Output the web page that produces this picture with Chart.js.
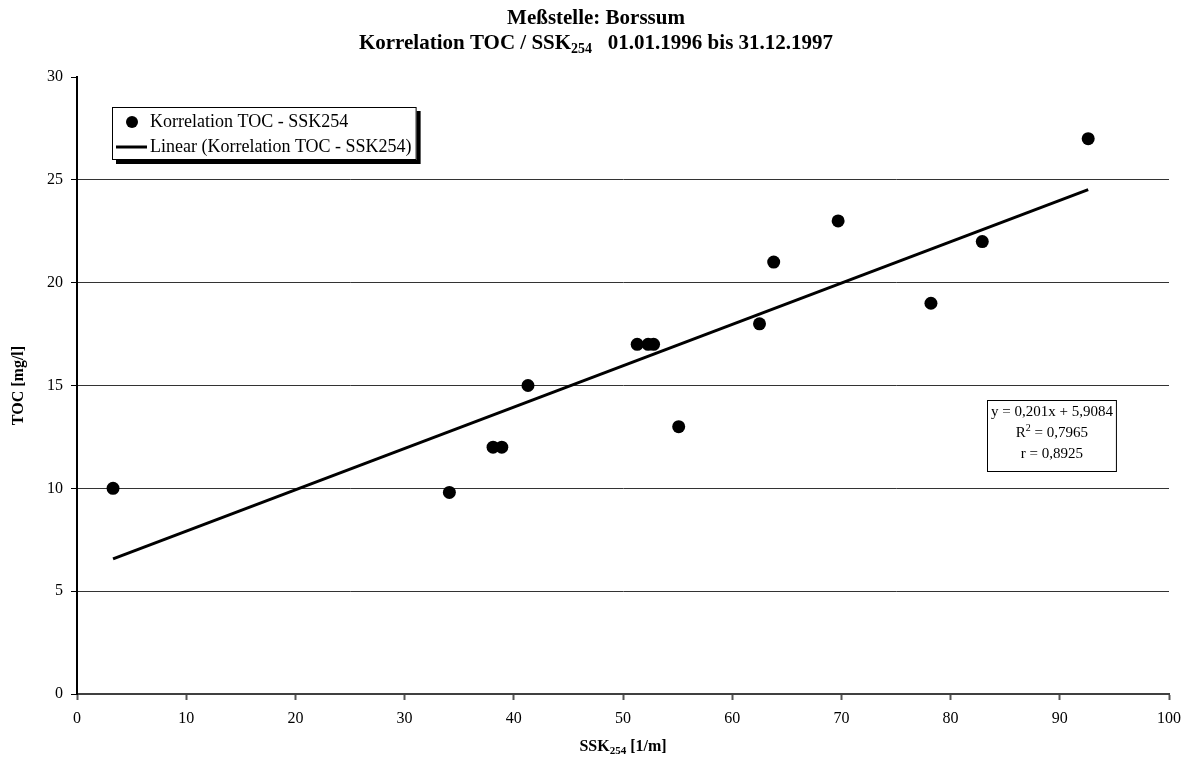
<!DOCTYPE html>
<html>
<head>
<meta charset="utf-8">
<script src="https://cdn.jsdelivr.net/npm/chart.js@4/dist/chart.umd.min.js"></script>
<style>
  html, body { margin: 0; padding: 0; background: #fff; }
  #wrap { width: 1192px; height: 767px; }
</style>
</head>
<body>
<div id="wrap"><canvas id="c" width="1192" height="767"></canvas></div>
<script>
// Messstelle Borssum, 1996-1997: SSK254 [1/m] against TOC [mg/l]
const ssk254 = [3.3, 34.1, 38.1, 38.9, 41.3, 51.3, 52.3, 52.8, 55.1, 62.5, 63.8, 69.7, 78.2, 82.9, 92.6];
const tocValues = [10, 9.8, 12, 12, 15, 17, 17, 17, 13, 18, 21, 23, 19, 22, 27];

// Linear trend as stated in the equation box
const trendSlope = 0.201;
const trendIntercept = 5.9084;
const trendR2 = 0.7965;
const trendR = 0.8925;

// Axis ranges and steps
const xRange = [0, 100];
const xStep = 10;
const yRange = [0, 30];
const yStep = 5;

const seriesLabel = 'Korrelation TOC - SSK254';
const trendLabel = 'Linear (Korrelation TOC - SSK254)';

const SERIF = '"Liberation Serif", "Times New Roman", serif';

const points = ssk254.map((x, i) => ({ x: x, y: tocValues[i] }));
const xMin = Math.min(...ssk254);
const xMax = Math.max(...ssk254);
const trendPoints = [xMin, xMax].map(x => ({ x: x, y: trendSlope * x + trendIntercept }));

const de = v => String(v).replace('.', ',');

// Text pieces drawn in a row; a piece may be shifted up/down (sub/superscript)
function pieceWidth(ctx, parts) {
  let w = 0;
  parts.forEach(p => { ctx.font = p.font; w += ctx.measureText(p.text).width; });
  return w;
}
function drawPieces(ctx, parts, x, y) {
  let cx = x;
  parts.forEach(p => {
    ctx.font = p.font;
    ctx.fillText(p.text, cx, y + (p.dy || 0));
    cx += ctx.measureText(p.text).width;
  });
}

const decorations = {
  id: 'decorations',
  afterDraw(chart) {
    const ctx = chart.ctx;
    const area = chart.chartArea;
    ctx.save();
    ctx.fillStyle = '#000';
    ctx.textAlign = 'left';
    ctx.textBaseline = 'alphabetic';

    // Chart title, two lines
    const tFont = 'bold 21px ' + SERIF;
    const tSub = 'bold 14px ' + SERIF;
    const line1 = [{ text: 'Meßstelle: Borssum', font: tFont }];
    const line2 = [
      { text: 'Korrelation TOC / SSK', font: tFont },
      { text: '254', font: tSub, dy: 4 },
      { text: '   01.01.1996 bis 31.12.1997', font: tFont }
    ];
    const cxTitle = chart.width / 2;
    drawPieces(ctx, line1, cxTitle - pieceWidth(ctx, line1) / 2, 24);
    drawPieces(ctx, line2, cxTitle - pieceWidth(ctx, line2) / 2, 49);

    // X axis title
    const aFont = 'bold 16px ' + SERIF;
    const aSub = 'bold 11px ' + SERIF;
    const xt = [
      { text: 'SSK', font: aFont },
      { text: '254', font: aSub, dy: 3 },
      { text: ' [1/m]', font: aFont }
    ];
    const xcx = (area.left + area.right) / 2;
    drawPieces(ctx, xt, xcx - pieceWidth(ctx, xt) / 2, 751);

    // Y axis title
    ctx.save();
    ctx.translate(23, (area.top + area.bottom) / 2);
    ctx.rotate(-Math.PI / 2);
    ctx.font = aFont;
    ctx.textAlign = 'center';
    ctx.fillText('TOC [mg/l]', 0, 0);
    ctx.restore();

    // Legend with drop shadow
    const lFont = '18px ' + SERIF;
    ctx.font = lFont;
    const lx = 112, ly = 107, lh = 53;
    const textX = 150;
    const lw = Math.max(ctx.measureText(seriesLabel).width, ctx.measureText(trendLabel).width) + (textX - lx) + 5;
    ctx.fillStyle = '#000';
    ctx.fillRect(lx + 4, ly + 4, lw, lh);
    ctx.fillStyle = '#fff';
    ctx.fillRect(lx, ly, lw, lh);
    ctx.strokeStyle = '#000';
    ctx.lineWidth = 1;
    ctx.strokeRect(lx + 0.5, ly + 0.5, lw - 1, lh - 1);
    ctx.fillStyle = '#000';
    ctx.beginPath();
    ctx.arc(132, 122, 6, 0, Math.PI * 2);
    ctx.fill();
    ctx.lineWidth = 3;
    ctx.beginPath();
    ctx.moveTo(116, 147);
    ctx.lineTo(147, 147);
    ctx.stroke();
    ctx.font = lFont;
    ctx.textBaseline = 'middle';
    ctx.fillText(seriesLabel, textX, 122);
    ctx.fillText(trendLabel, textX, 147);

    // Equation box
    const eFont = '15px ' + SERIF;
    const eSup = '10px ' + SERIF;
    const eq1 = [{ text: 'y = ' + de(trendSlope) + 'x + ' + de(trendIntercept), font: eFont }];
    const eq2 = [
      { text: 'R', font: eFont },
      { text: '2', font: eSup, dy: -6 },
      { text: ' = ' + de(trendR2), font: eFont }
    ];
    const eq3 = [{ text: 'r = ' + de(trendR), font: eFont }];
    const ew = pieceWidth(ctx, eq1) + 8;
    const ex = 987, ey = 400, eh = 72;
    ctx.fillStyle = '#fff';
    ctx.fillRect(ex, ey, ew, eh);
    ctx.strokeStyle = '#000';
    ctx.lineWidth = 1;
    ctx.strokeRect(ex + 0.5, ey + 0.5, ew - 1, eh - 1);
    ctx.fillStyle = '#000';
    ctx.textBaseline = 'alphabetic';
    const ecx = ex + ew / 2;
    [[eq1, 416], [eq2, 437], [eq3, 458]].forEach(([parts, by]) => {
      drawPieces(ctx, parts, ecx - pieceWidth(ctx, parts) / 2, by);
    });

    ctx.restore();
  }
};

new Chart(document.getElementById('c'), {
  type: 'scatter',
  data: {
    datasets: [
      {
        label: seriesLabel,
        data: points,
        backgroundColor: '#000',
        borderColor: '#000',
        borderWidth: 0,
        pointRadius: 6.5,
        pointHoverRadius: 6.5,
        order: 1
      },
      {
        label: trendLabel,
        data: trendPoints,
        showLine: true,
        borderColor: '#000',
        borderWidth: 3,
        pointRadius: 0,
        fill: false,
        order: 2
      }
    ]
  },
  options: {
    responsive: false,
    animation: false,
    devicePixelRatio: 1,
    layout: { padding: { top: 77, right: 23, left: 0, bottom: 0 } },
    plugins: {
      legend: { display: false },
      title: { display: false },
      tooltip: { enabled: false }
    },
    scales: {
      x: {
        type: 'linear',
        min: xRange[0],
        max: xRange[1],
        ticks: {
          stepSize: xStep,
          color: '#000',
          font: { family: SERIF, size: 16 },
          padding: 9,
          maxRotation: 0
        },
        grid: {
          drawOnChartArea: false,
          drawTicks: true,
          tickLength: 6,
          tickColor: '#555',
          tickWidth: 2
        },
        border: { display: true, color: '#404040', width: 2 },
        afterFit(scale) { scale.height = 73; }
      },
      y: {
        type: 'linear',
        min: yRange[0],
        max: yRange[1],
        ticks: {
          stepSize: yStep,
          color: '#000',
          font: { family: SERIF, size: 16 },
          padding: 8
        },
        grid: {
          color: ctx => (ctx.tick && ctx.tick.value === yRange[1]) ? 'rgba(0,0,0,0)' : '#333',
          lineWidth: 1,
          tickLength: 6,
          tickColor: '#000'
        },
        border: { display: true, color: '#000', width: 2 },
        afterFit(scale) { scale.width = 77; }
      }
    }
  },
  plugins: [decorations]
});
</script>
</body>
</html>
